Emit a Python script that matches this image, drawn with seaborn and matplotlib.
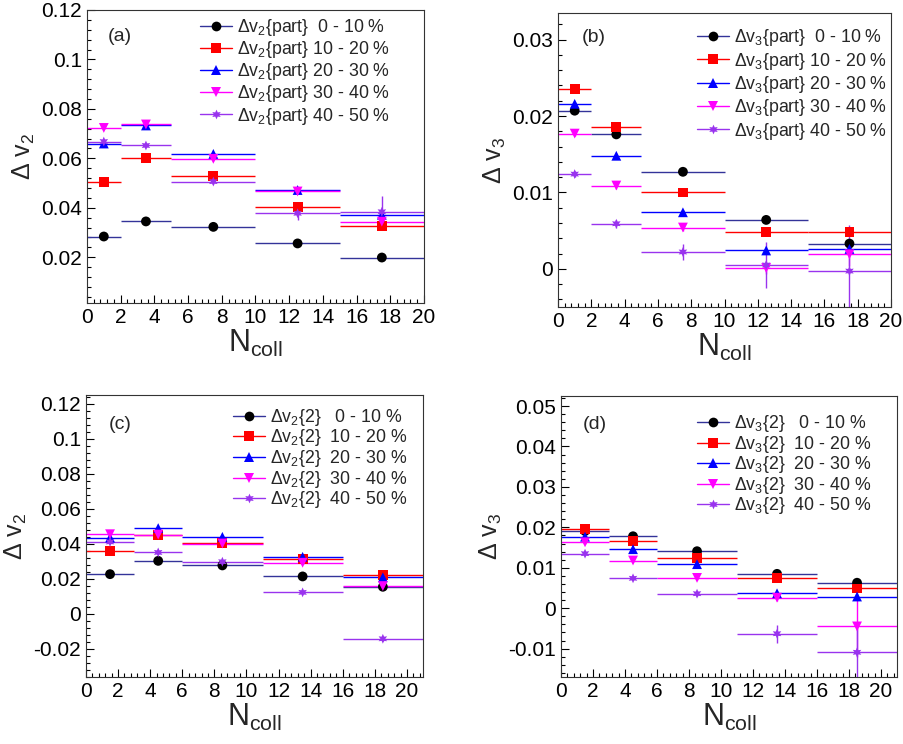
import numpy as np
import pandas as pd
import seaborn as sns
import matplotlib.pyplot as plt
from matplotlib.lines import Line2D
from matplotlib.ticker import MultipleLocator, FuncFormatter

CENTRALITIES = ['0 - 10 %', '10 - 20 %', '20 - 30 %', '30 - 40 %', '40 - 50 %']
LINE_COLORS = ['#333399', '#ff0000', '#0000ff', '#ff00ff', '#9933ee']
MARKER_COLORS = ['#000000', '#ff0000', '#0000ff', '#ff00ff', '#9933ee']
MARKERS = ['o', 's', '^', 'v', (6, 1, 0)]

# N_coll bin edges
EDGES_PART = [0, 2, 5, 10, 15, 20]
EDGES_TWO = [0, 3, 6, 11, 16, 21]

# (a) delta v2{part}
DV2_PART = [
    [0.0284, 0.0345, 0.0323, 0.0256, 0.0199],
    [0.0505, 0.0601, 0.0529, 0.0403, 0.0326],
    [0.0660, 0.0733, 0.0618, 0.0472, 0.0372],
    [0.0723, 0.0737, 0.0598, 0.0466, 0.0344],
    [0.0668, 0.0652, 0.0506, 0.0378, 0.0384],
]
DV2_PART_ERR = [
    [0.0003, 0.0003, 0.0003, 0.0003, 0.0003],
    [0.0004, 0.0004, 0.0005, 0.0006, 0.0008],
    [0.0005, 0.0005, 0.0007, 0.0009, 0.0015],
    [0.0006, 0.0006, 0.0008, 0.0010, 0.0020],
    [0.0008, 0.0007, 0.0009, 0.0027, 0.0063],
]

# (b) delta v3{part}
DV3_PART = [
    [0.0207, 0.0176, 0.0127, 0.0064, 0.0033],
    [0.0235, 0.0186, 0.0100, 0.0048, 0.0048],
    [0.0216, 0.0148, 0.0074, 0.0024, 0.0026],
    [0.0177, 0.0109, 0.0054, 0.0001, 0.0019],
    [0.0124, 0.0059, 0.0022, 0.0005, -0.0003],
]
DV3_PART_ERR = [
    [0.0002, 0.0002, 0.0002, 0.0002, 0.0003],
    [0.0002, 0.0002, 0.0003, 0.0003, 0.0005],
    [0.0003, 0.0003, 0.0003, 0.0005, 0.0008],
    [0.0003, 0.0004, 0.0005, 0.0008, 0.0015],
    [0.0004, 0.0005, 0.0011, 0.0030, 0.0060],
]

# (c) delta v2{2}
DV2_TWO = [
    [0.0227, 0.0303, 0.0277, 0.0214, 0.0155],
    [0.0360, 0.0449, 0.0406, 0.0313, 0.0220],
    [0.0436, 0.0490, 0.0440, 0.0326, 0.0209],
    [0.0455, 0.0453, 0.0402, 0.0292, 0.0159],
    [0.0411, 0.0351, 0.0298, 0.0123, -0.0142],
]
DV2_TWO_ERR = [
    [0.0003, 0.0003, 0.0003, 0.0003, 0.0003],
    [0.0003, 0.0004, 0.0004, 0.0005, 0.0006],
    [0.0004, 0.0005, 0.0005, 0.0006, 0.0007],
    [0.0005, 0.0006, 0.0006, 0.0008, 0.0009],
    [0.0006, 0.0007, 0.0008, 0.0010, 0.0012],
]

# (d) delta v3{2}
DV3_TWO = [
    [0.0191, 0.0178, 0.0141, 0.0085, 0.0063],
    [0.0195, 0.0167, 0.0124, 0.0074, 0.0049],
    [0.0177, 0.0146, 0.0109, 0.0037, 0.0029],
    [0.0163, 0.0118, 0.0075, 0.0026, -0.0045],
    [0.0135, 0.0074, 0.0036, -0.0063, -0.0109],
]
DV3_TWO_ERR = [
    [0.0002, 0.0002, 0.0002, 0.0002, 0.0003],
    [0.0002, 0.0002, 0.0003, 0.0003, 0.0005],
    [0.0003, 0.0003, 0.0003, 0.0005, 0.0008],
    [0.0003, 0.0004, 0.0005, 0.0008, 0.0075],
    [0.0004, 0.0005, 0.0006, 0.0022, 0.0060],
]

sns.set_theme(style='ticks')
plt.rcParams['font.family'] = ['Liberation Sans', 'DejaVu Sans']
plt.rcParams['mathtext.fontset'] = 'custom'
plt.rcParams['mathtext.rm'] = 'Liberation Sans'
plt.rcParams['mathtext.it'] = 'Liberation Sans:italic'


def long_table(values, errors, edges):
    edges = np.array(edges, dtype=float)
    centers = (edges[:-1] + edges[1:]) / 2
    halfw = (edges[1:] - edges[:-1]) / 2
    rows = []
    for cent, vals, errs in zip(CENTRALITIES, values, errors):
        for c, w, v, e in zip(centers, halfw, vals, errs):
            rows.append({'ncoll': c, 'xerr': w, 'dv': v, 'err': e, 'cent': cent})
    return pd.DataFrame(rows)


def draw_panel(ax, values, errors, edges, ylim, ymajor, yminor,
               ylabel, tag, tag_pos, leg_fmt, leg_anchor, leg_spacing):
    df = long_table(values, errors, edges)
    # bin width (x) and statistical error (y) bars
    for i, cent in enumerate(CENTRALITIES):
        sub = df[df['cent'] == cent]
        ax.errorbar(sub['ncoll'], sub['dv'], xerr=sub['xerr'], yerr=sub['err'],
                    fmt='none', ecolor=LINE_COLORS[i], elinewidth=1.0,
                    capsize=0, zorder=2)
    sns.scatterplot(data=df, x='ncoll', y='dv', hue='cent', style='cent',
                    palette=dict(zip(CENTRALITIES, MARKER_COLORS)),
                    markers=dict(zip(CENTRALITIES, MARKERS)),
                    s=50, linewidth=0, legend=False, ax=ax, zorder=3)
    ax.set_xlim(edges[0], edges[-1])
    ax.set_ylim(*ylim)
    ax.xaxis.set_major_locator(MultipleLocator(2))
    ax.xaxis.set_minor_locator(MultipleLocator(0.4))
    ax.yaxis.set_major_locator(MultipleLocator(ymajor))
    ax.yaxis.set_minor_locator(MultipleLocator(yminor))
    ax.yaxis.set_major_formatter(FuncFormatter(lambda v, p: '%g' % round(v, 6)))
    ax.tick_params(which='both', direction='in', top=False, right=False,
                   labelsize=15, colors='#000000', width=0.8)
    ax.tick_params(which='major', length=6)
    ax.tick_params(which='minor', length=3)
    for sp in ax.spines.values():
        sp.set_visible(True)
        sp.set_linewidth(0.8)
        sp.set_color('#333333')
    ax.set_xlabel(r'N$_\mathregular{coll}$', fontsize=22, labelpad=1)
    ax.set_ylabel(ylabel, fontsize=18, labelpad=3)
    ax.text(tag_pos[0], tag_pos[1], tag, transform=ax.transAxes,
            fontsize=14, va='center', ha='left')
    handles = [Line2D([0], [0], color=LINE_COLORS[i], lw=1.0, marker=MARKERS[i],
                      markersize=7, markerfacecolor=MARKER_COLORS[i],
                      markeredgewidth=0)
               for i in range(len(CENTRALITIES))]
    labels = [leg_fmt(c) for c in CENTRALITIES]
    ax.legend(handles, labels, loc='upper left', bbox_to_anchor=leg_anchor,
              frameon=False, fontsize=12.8, handlelength=1.8, handletextpad=0.3,
              labelspacing=leg_spacing, borderpad=0, borderaxespad=0)


def fmt_part(n):
    return lambda c: 'Δv$_\\mathregular{%d}${part}%s' % (n, ('  ' if c.startswith('0 ') else ' ') + c)


def fmt_two(n):
    return lambda c: 'Δv$_\\mathregular{%d}${2}%s' % (n, ('   ' if c.startswith('0 ') else '  ') + c)


fig = plt.figure(figsize=(9.04, 7.44), dpi=100)
ax_a = fig.add_axes([0.0962, 0.5927, 0.3728, 0.3939])
ax_b = fig.add_axes([0.6173, 0.5874, 0.3684, 0.3952])
ax_c = fig.add_axes([0.0951, 0.0901, 0.3728, 0.3790])
ax_d = fig.add_axes([0.6206, 0.0901, 0.3717, 0.3777])

draw_panel(ax_a, DV2_PART, DV2_PART_ERR, EDGES_PART, (0.0015, 0.12), 0.02, 0.004,
           r'Δ v$_\mathregular{2}$', '(a)', (0.062, 0.911), fmt_part(2),
           (0.335, 0.975), 0.06)
draw_panel(ax_b, DV3_PART, DV3_PART_ERR, EDGES_PART, (-0.005, 0.0335), 0.01, 0.002,
           r'Δ v$_\mathregular{3}$', '(b)', (0.072, 0.918), fmt_part(3),
           (0.417, 0.951), 0.13)
draw_panel(ax_c, DV2_TWO, DV2_TWO_ERR, EDGES_TWO, (-0.036, 0.125), 0.02, 0.004,
           r'Δ v$_\mathregular{2}$', '(c)', (0.068, 0.897), fmt_two(2),
           (0.436, 0.958), -0.02)
draw_panel(ax_d, DV3_TWO, DV3_TWO_ERR, EDGES_TWO, (-0.017, 0.0525), 0.01, 0.002,
           r'Δ v$_\mathregular{3}$', '(d)', (0.065, 0.90), fmt_two(3),
           (0.405, 0.938), -0.03)

fig.savefig('out.png', dpi=100)
